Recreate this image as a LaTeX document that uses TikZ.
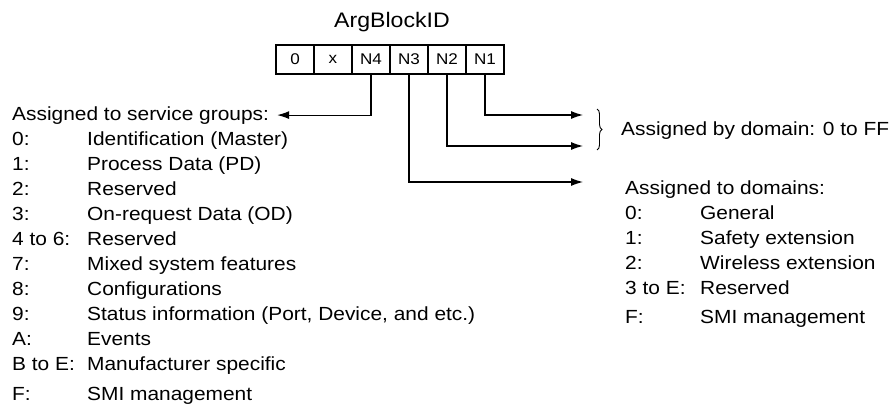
\documentclass[tikz,border=0pt]{standalone}
\usepackage{fontspec}
\setmainfont[FakeStretch=1.10]{Liberation Sans}
\usetikzlibrary{positioning,arrows.meta,decorations.pathreplacing}

\begin{document}
\begin{tikzpicture}[
  x=1pt, y=-1pt,
  font=\fontsize{19}{23}\selectfont,
  cell/.style={draw, line width=1.1pt, outer sep=0pt, inner sep=0pt,
               minimum width=38pt, minimum height=29pt,
               font=\fontsize{15.5}{18}\selectfont},
  head/.style={anchor=base, font=\fontsize{21}{25}\selectfont},
  entry/.style={anchor=base west, inner sep=0pt},
  link/.style={line width=1.1pt, -{Latex[length=12pt, width=8pt]}},
  curly/.style={decorate, decoration={brace, amplitude=5pt}, line width=0.9pt},
]
  \useasboundingbox (0,0) rectangle (893,412);

  % the six digits of the ID
  \foreach \t [count=\i] in {0,x,N4,N3,N2,N1}
    \node[cell] (c\i) at (257+38*\i, 59.5) {\t};
  \node[head] (id) at (392,28) {ArgBlockID};

  % N4: service groups
  \node[entry] (sg) at (12,120) {Assigned to service groups:};
  \foreach \k/\v [count=\i] in {0:/Identification (Master), 1:/Process Data (PD),
      2:/Reserved, 3:/On-request Data (OD), 4 to 6:/Reserved,
      7:/Mixed system features, 8:/Configurations,
      {9:/Status information (Port, Device, and etc.)},
      A:/Events, B to E:/Manufacturer specific}
  {
    \node[entry] (sgk\i) at (12,120+25*\i) {\k};
    \node[entry] (sgv\i) at (87,120+25*\i) {\v};
  }
  \node[entry] (sgk11) at (12,400) {F:};
  \node[entry] (sgv11) at (87,400) {SMI management};
  \draw[link] (c3.south) |- ([xshift=8pt]sg.east);

  % N3: domains
  \node[entry] (dm) at (625,194) {Assigned to domains:};
  \foreach \k/\v [count=\i] in {0:/General, 1:/Safety extension,
      2:/Wireless extension, 3 to E:/Reserved}
  {
    \node[entry] (dmk\i) at (625,194+25*\i) {\k};
    \node[entry] (dmv\i) at (700,194+25*\i) {\v};
  }
  \node[entry] (dmk5) at (625,323) {F:};
  \node[entry] (dmv5) at (700,323) {SMI management};
  \coordinate (t3) at (583,182);
  \draw[link] (c4.south) |- (t3);

  % N2, N1: assigned by domain
  \coordinate (t1) at (583,115);
  \coordinate (t2) at (583,146);
  \draw[link] (c6.south) |- (t1);
  \draw[link] (c5.south) |- (t2);
  \coordinate (b1) at (597,109);
  \coordinate (b2) at (597,150);
  \draw[curly] (b1) -- (b2);
  \node[entry] (bd) at (621,135) {Assigned by domain: 0 to FF};
\end{tikzpicture}
\end{document}
